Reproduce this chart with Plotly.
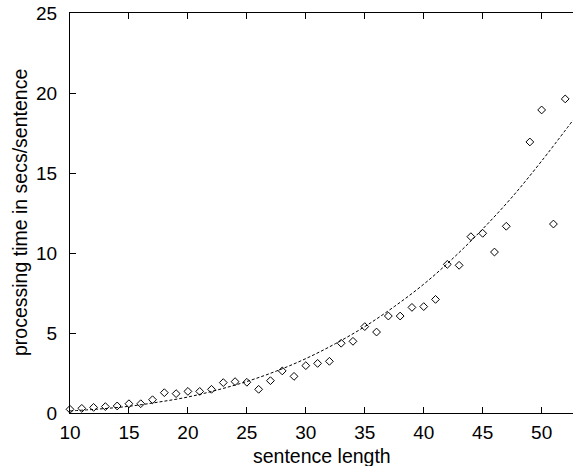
import plotly.graph_objects as go

# measured data points (sentence length vs processing time)
sent_len = [10, 11, 12, 13, 14, 15, 16, 17, 18, 19, 20, 21, 22, 23, 24, 25, 26, 27, 28, 29,
            30, 31, 32, 33, 34, 35, 36, 37, 38, 39, 40, 41, 42, 43, 44, 45, 46, 47, 49, 50, 51, 52]
proc_time = [0.23, 0.29, 0.35, 0.40, 0.44, 0.58, 0.58, 0.83, 1.27, 1.21, 1.35, 1.35, 1.48, 1.90,
             1.96, 1.92, 1.48, 2.02, 2.63, 2.29, 2.96, 3.10, 3.23, 4.36, 4.48, 5.40, 5.06, 6.06,
             6.06, 6.60, 6.65, 7.10, 9.29, 9.23, 11.02, 11.23, 10.06, 11.67, 16.94, 18.94, 11.81, 19.63]

# fitted curve, values
fit_x = [10, 12.5, 15, 17.5, 20, 22.5, 25, 27.5, 30, 32.5, 35, 37.5, 40, 42.5, 45, 47.5, 50, 52.66]
fit_y = [0.13, 0.25, 0.42, 0.68, 1.0, 1.44, 1.97, 2.62, 3.4, 4.33, 5.4, 6.65, 8.05, 9.68, 11.5,
         13.5, 15.75, 18.3]

x_ticks = [10, 15, 20, 25, 30, 35, 40, 45, 50]
y_ticks = [0, 5, 10, 15, 20, 25]

FONT = "Liberation Sans, Arial, sans-serif"

fig = go.Figure()
fig.add_trace(go.Scatter(
    x=fit_x, y=fit_y, mode="lines", line_shape="spline",
    line=dict(color="black", width=1, dash="3px,2px"), hoverinfo="skip", showlegend=False))
fig.add_trace(go.Scatter(
    x=sent_len, y=proc_time, mode="markers",
    marker=dict(symbol="diamond-open", size=6, color="black", line=dict(width=1, color="black")),
    showlegend=False, cliponaxis=False))

fig.update_layout(
    width=573, height=466,
    margin=dict(l=70, r=0, t=13, b=53),
    paper_bgcolor="white", plot_bgcolor="white",
    font=dict(family=FONT, size=19, color="black"),
    annotations=[
        dict(text="sentence length", xref="paper", yref="paper", x=0.5, y=-0.107,
             xanchor="center", yanchor="middle", showarrow=False, font=dict(size=19.5)),
        dict(text="processing time in secs/sentence", xref="paper", yref="paper",
             x=-0.0994, y=0.5, xanchor="center", yanchor="middle", textangle=-90,
             showarrow=False, font=dict(size=19.5)),
    ],
)
fig.update_xaxes(
    range=[10, 52.66], tickvals=x_ticks, ticks="inside", ticklen=6, tickcolor="black",
    showline=True, linecolor="black", linewidth=1, mirror="allticks",
    showgrid=False, zeroline=False, ticklabelstandoff=2)
fig.update_yaxes(
    range=[0, 25], tickvals=y_ticks, ticks="inside", ticklen=6, tickcolor="black",
    showline=True, linecolor="black", linewidth=1, mirror=False,
    showgrid=False, zeroline=False, ticklabelstandoff=8)

fig.write_html("out.html", config={"displayModeBar": False},
               post_script="document.body.style.margin='0';")
